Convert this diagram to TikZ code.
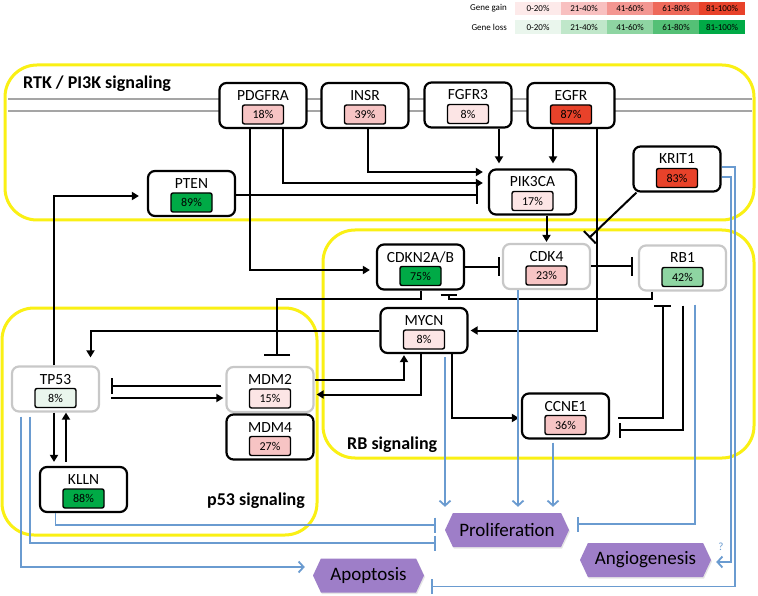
\documentclass[tikz,border=0pt]{standalone}
\usepackage{fontspec}
\setmainfont{Carlito}
\usetikzlibrary{arrows.meta,shapes.symbols,shadows}

\definecolor{ylw}{RGB}{250,240,20}
\definecolor{memb}{RGB}{165,165,165}
\definecolor{lgray}{RGB}{200,200,200}
\definecolor{sig}{RGB}{106,155,208}
\definecolor{purp}{RGB}{158,126,200}
\definecolor{gainA}{RGB}{253,234,234}
\definecolor{gainB}{RGB}{248,192,192}
\definecolor{gainC}{RGB}{243,150,145}
\definecolor{gainD}{RGB}{238,105,90}
\definecolor{gainE}{RGB}{232,66,42}
\definecolor{lossA}{RGB}{234,246,237}
\definecolor{lossB}{RGB}{192,231,202}
\definecolor{lossC}{RGB}{142,213,162}
\definecolor{lossD}{RGB}{84,192,118}
\definecolor{lossE}{RGB}{0,170,70}
\definecolor{pinkA}{RGB}{252,229,229}
\definecolor{pinkB}{RGB}{247,196,196}

\tikzset{
  gbox/.style={draw, fill=white, line width=2.2pt, rounded corners=7pt, minimum width=87pt, minimum height=45pt},
  gname/.style={inner sep=0pt, anchor=base, font=\fontsize{15.5}{16}\selectfont},
  badge/.style={draw, line width=1.4pt, rounded corners=2pt, minimum width=41pt, minimum height=19pt, inner sep=0pt, font=\fontsize{12}{12}\selectfont},
  region/.style={draw=ylw, line width=3pt, rounded corners=32pt},
  regname/.style={anchor=base west, inner sep=0pt, font=\bfseries\fontsize{18}{18}\selectfont},
  membrane/.style={draw=memb, line width=2pt},
  act/.style={line width=2pt, -{Triangle[length=7pt,width=8pt]}},
  inh/.style={line width=2pt, -{Bar[width=19pt]}},
  bact/.style={draw=sig, line width=1.8pt, -{Straight Barb[length=5pt,width=11pt]}},
  binh/.style={draw=sig, line width=1.8pt, -{Bar[width=15pt]}},
  outcome/.style={signal, signal to=east and west, signal pointer angle=130, fill=purp, minimum height=34pt, inner sep=2pt, font=\fontsize{19}{20}\selectfont, drop shadow={opacity=0.2, shadow xshift=1pt, shadow yshift=-1.5pt}},
  legcell/.style={minimum width=46pt, minimum height=13.5pt, inner sep=0pt, font=\fontsize{9}{9}\selectfont},
}

\newcommand{\gene}[6]{%
  \node[gbox, draw=#6] (#1) at (#2) {};
  \node[gname] (#1-name) at ([yshift=5pt]#1.center) {#3};
  \node[badge, fill=#5] (#1-pct) at ([yshift=-9pt]#1.center) {#4\%};
}

\begin{document}
\begin{tikzpicture}[x=1pt,y=-1pt]
\fill[white] (0,0) rectangle (758,596);
\useasboundingbox (0,0) rectangle (758,596);

\draw[region] (5,65) rectangle (754,220);
\draw[region] (323,230) rectangle (754,458);
\draw[region] (2,308) rectangle (317,535);
\draw[membrane] (8,99) -- (752,99);
\draw[membrane] (8,111) -- (752,111);

\node[regname] (rtk) at (23,88.5) {RTK / PI3K signaling};
\node[regname] (rbsig) at (347,449) {RB signaling};
\node[regname] (p53sig) at (207,505) {p53 signaling};

\gene{pdgfra}{263,105.5}{PDGFRA}{18}{pinkB}{black}
\gene{insr}{365,105.5}{INSR}{39}{pinkB}{black}
\gene{fgfr3}{468,105}{FGFR3}{8}{pinkA}{black}
\gene{egfr}{571,105.5}{EGFR}{87}{gainE}{black}
\gene{pten}{191.5,193.5}{PTEN}{89}{lossE}{black}
\gene{pik3ca}{532.5,192}{PIK3CA}{17}{pinkA}{black}
\gene{krit1}{677,169}{KRIT1}{83}{gainE}{black}
\gene{cdkn}{420.5,267}{CDKN2A/B}{75}{lossE}{black}
\gene{cdk4}{546.5,266.5}{CDK4}{23}{pinkB}{lgray}
\gene{rb1}{682.5,268}{RB1}{42}{lossC}{lgray}
\gene{mycn}{424,330.5}{MYCN}{8}{pinkA}{black}
\gene{ccne1}{565.5,416}{CCNE1}{36}{pinkB}{black}
\gene{tp53}{55.5,389}{TP53}{8}{lossA}{lgray}
\gene{mdm2}{270,389.5}{MDM2}{15}{pinkA}{lgray}
\gene{mdm4}{270,437}{MDM4}{27}{pinkB}{black}
\gene{klln}{83.5,489.5}{KLLN}{88}{lossE}{black}

\node[outcome, minimum width=124pt] (prolif) at (507,530) {Proliferation};
\node[outcome, minimum width=131pt] (angio) at (645.5,560) {Angiogenesis};
\node[outcome, minimum width=111pt] (apop) at (368.5,575.5) {Apoptosis};
\node[text=sig, font=\fontsize{11}{11}\selectfont] (qmark) at (721,547) {?};

\draw[act, shorten >=6pt] ([xshift=-13pt]pdgfra.south) |- ([yshift=-3pt]cdkn.west);
\draw[act, shorten >=5pt] ([xshift=20pt]pdgfra.south) |- ([yshift=9pt]pik3ca.west);
\draw[act, shorten >=5pt] ([xshift=3pt]insr.south) |- ([yshift=20pt]pik3ca.west);
\draw[inh, shorten >=10pt] ([yshift=-1.5pt]pten.east) -- ([yshift=-1.5pt]pten.east -| pik3ca.west);
\draw[act, shorten >=5pt] ([xshift=31pt]fgfr3.south) -- ([xshift=31pt]fgfr3.south |- pik3ca.north);
\draw[act, shorten >=5pt] ([xshift=-18pt]egfr.south) -- ([xshift=-18pt]egfr.south |- pik3ca.north);
\draw[act, shorten >=2pt] ([xshift=26pt]egfr.south) |- (mycn.east);
\draw[act, shorten >=1pt] (pik3ca.south -| cdk4.north) -- (cdk4.north);
\draw[inh, -{Bar[width=17pt]}] ([xshift=4pt]krit1.south west) -- ([xshift=-2pt,yshift=5pt]cdk4.north east);
\draw[inh, shorten >=2pt] (cdkn.east) -- (cdkn.east -| cdk4.west);
\draw[inh, shorten >=5pt] (cdk4.east) -- (cdk4.east -| rb1.west);
\draw[inh, -{Bar[width=16pt]}] ([xshift=-31pt]rb1.south) -- ++(0,7) -| ([xshift=28pt,yshift=-3pt]cdkn.south);
\draw[inh, -{Bar[width=26pt]}, shorten >=10pt] (cdkn.south) -- ++(0,8.5) -| ([xshift=7pt]mdm2.north);
\draw[act, shorten >=8pt] (mycn.west) -| ([xshift=35pt]tp53.north);
\draw[act, shorten >=8pt] ([xshift=-1.5pt]tp53.north) |- ([yshift=-2.5pt]pten.west);
\draw[inh, -{Bar[width=16pt]}, shorten <=4pt, shorten >=11pt] ([yshift=3.5pt]mdm2.west) -- ([yshift=3.5pt]mdm2.west -| tp53.east);
\draw[act, shorten <=11pt, shorten >=2pt] ([yshift=-9pt]tp53.east) -- ([yshift=-9pt]tp53.east -| mdm2.west);
\draw[act, shorten >=1pt] ([yshift=10pt]mdm2.east) -| ([xshift=-20pt]mycn.south);
\draw[act, shorten >=2pt] ([xshift=-3pt]mycn.south) |- ([yshift=-5pt]mdm2.east);
\draw[act, shorten >=2pt] ([xshift=28pt]mycn.south) |- ([yshift=-2pt]ccne1.west);
\draw[inh, -{Bar[width=17pt]}, shorten <=8pt, shorten >=13pt] ([yshift=-2pt]ccne1.east) -| ([xshift=-20pt]rb1.south);
\draw[inh, -{Bar[width=15pt]}, shorten <=14pt, shorten >=9pt] (rb1.south) |- ([yshift=-14pt]ccne1.east);
\draw[act, shorten >=4pt] ([xshift=-1.5pt]tp53.south) -- ([xshift=-1.5pt]tp53.south |- klln.north);
\draw[act, shorten <=4pt] ([xshift=-17.5pt]klln.north) -- ([xshift=-17.5pt]klln.north |- tp53.south);

\draw[binh, shorten >=9pt] ([xshift=-28pt]klln.south) |- ([yshift=5pt]prolif.west);
\draw[binh, shorten <=4pt, shorten >=9pt] ([xshift=-25.5pt]tp53.south) |- ([yshift=-13pt]prolif.west);
\draw[bact, shorten <=4pt, shorten >=8pt] ([xshift=-34.5pt]tp53.south) |- ([yshift=8.5pt]apop.west);
\draw[bact, shorten <=3pt, shorten >=6pt] ([xshift=21pt]mycn.south) -- ([xshift=21pt]mycn.south |- prolif.north);
\draw[bact, shorten >=6pt] ([xshift=-28.5pt]cdk4.south) -- ([xshift=-28.5pt]cdk4.south |- prolif.north);
\draw[bact, shorten <=3pt, shorten >=6pt] ([xshift=-12.5pt]ccne1.south) -- ([xshift=-12.5pt]ccne1.south |- prolif.north);
\draw[binh, shorten <=13pt, shorten >=8pt] ([xshift=12.5pt]rb1.south) |- ([yshift=6pt]prolif.east);
\draw[bact, shorten >=5pt] ([yshift=-8pt]krit1.east) -- ++(9,0) |- ([yshift=-2pt]angio.east);
\draw[binh, shorten >=7pt] ([yshift=2pt]krit1.east) -- ++(13,0) |- ([yshift=-11pt]apop.east);

\node[anchor=east, inner sep=0pt, font=\fontsize{9}{9}\selectfont] (gainlbl) at (507,8.5) {Gene gain};
\node[anchor=east, inner sep=0pt, font=\fontsize{9}{9}\selectfont] (losslbl) at (507,27) {Gene loss};
\foreach \t/\cg/\cl [count=\i] in {0-20\%/gainA/lossA, 21-40\%/gainB/lossB, 41-60\%/gainC/lossC, 61-80\%/gainD/lossD, 81-100\%/gainE/lossE} {
  \node[legcell, fill=\cg] (gain\i) at (492+46*\i,8.5) {\t};
  \node[legcell, fill=\cl] (loss\i) at (492+46*\i,27) {\t};
}
\end{tikzpicture}
\end{document}
